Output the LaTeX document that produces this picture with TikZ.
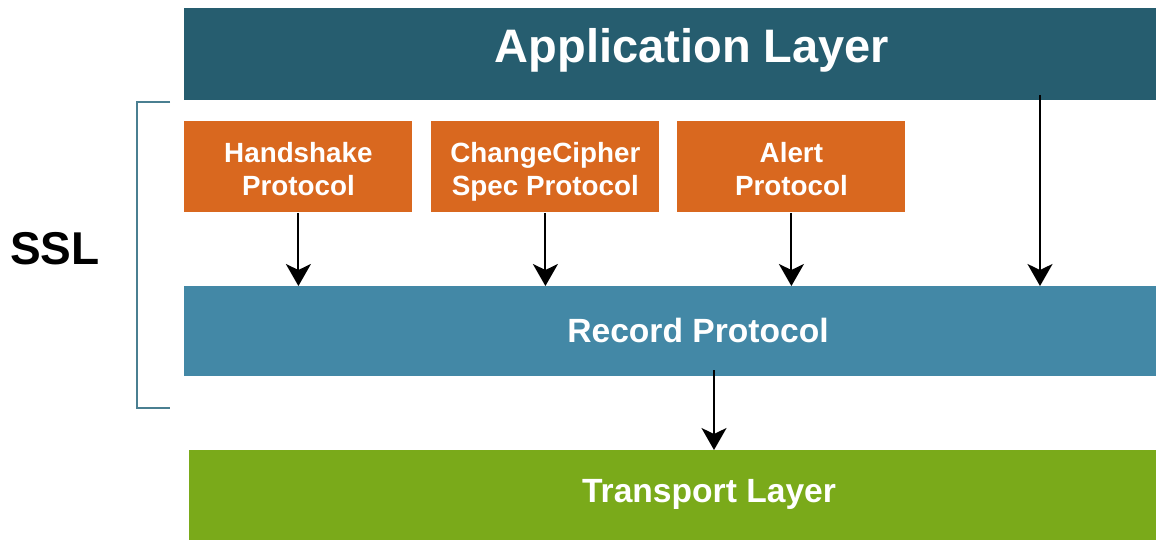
\documentclass[tikz,border=0pt]{standalone}
\usepackage{fontspec}
\setmainfont{Liberation Sans}
\usetikzlibrary{arrows.meta}
\definecolor{appcol}{HTML}{265D6F}
\definecolor{protcol}{HTML}{D9681F}
\definecolor{reccol}{HTML}{4388A6}
\definecolor{transcol}{HTML}{7AAA1A}
\definecolor{bracol}{HTML}{4A7F91}

\begin{document}
\begin{tikzpicture}[x=0.5pt,y=-0.5pt,
    layer/.style={anchor=north west,inner sep=0pt},
    lbl/.style={text=white,font=\bfseries\fontsize{16.8}{20}\selectfont},
    protbox/.style={layer,fill=protcol,minimum width=114pt,minimum height=45.5pt,
      align=center,text=white,text height=28.5pt,text depth=0pt,
      font=\bfseries\fontsize{13.9}{16.5}\selectfont},
    arr/.style={-{Stealth[length=11pt,width=12.5pt,inset=3pt]},line width=1pt}]
  \useasboundingbox (0,0) rectangle (1156,540);
  \node[layer,fill=appcol,minimum width=486pt,minimum height=46pt] (app) at (184,8) {};
  \node[lbl,font=\bfseries\fontsize{23.5}{28}\selectfont] (applbl) at (692,50) {Application Layer};
  \node[protbox] (hs) at (184,121) {Handshake\\Protocol};
  \node[protbox] (ccs) at (431,121) {ChangeCipher\\Spec Protocol};
  \node[protbox] (alert) at (677,121) {Alert\\Protocol};
  \node[layer,fill=reccol,minimum width=486pt,minimum height=45pt] (rec) at (184,286) {};
  \node[lbl] (reclbl) at (698,330) {Record Protocol};
  \node[layer,fill=transcol,minimum width=483.5pt,minimum height=45pt] (trans) at (189,450) {};
  \node[lbl] (translbl) at (709,494) {Transport Layer};
  \node[font=\bfseries\fontsize{23}{27}\selectfont] (ssl) at (55,249) {SSL};
  % bracket round the ssl part
  \draw[bracol,line width=1pt] (170,102) -- (137,102) -- (137,408) -- (170,408);
  \coordinate (appout) at (1040,95);
  \coordinate (recout) at (714,370);
  \draw[arr] (hs.south) -- (hs.south |- rec.north);
  \draw[arr] (ccs.south) -- (ccs.south |- rec.north);
  \draw[arr] (alert.south) -- (alert.south |- rec.north);
  \draw[arr] (appout) -- (appout |- rec.north);
  \draw[arr] (recout) -- (recout |- trans.north);
\end{tikzpicture}
\end{document}
